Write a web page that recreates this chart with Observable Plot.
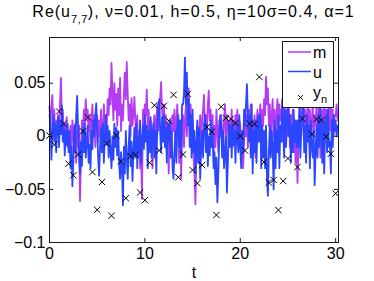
<!DOCTYPE html>
<html><head><meta charset="utf-8">
<script src="https://cdn.jsdelivr.net/npm/d3@7"></script>
<script src="https://cdn.jsdelivr.net/npm/@observablehq/plot@0.6"></script>
<style>
body{margin:0;background:#fff;font-family:"Liberation Sans",Arial,sans-serif;}
#wrap{position:relative;width:374px;height:281px;overflow:hidden;background:#fff}
#title{position:relative;width:387px;height:24px;text-align:center;font-size:16px;letter-spacing:1px;line-height:18px;padding-top:3px;box-sizing:border-box;white-space:nowrap;color:#000}
#title sub{font-size:11px;vertical-align:-6px;line-height:0;letter-spacing:0.5px}
#chart svg{display:block}
#legend{position:absolute;left:282px;top:41px}
</style></head><body>
<div id="wrap">
<div id="title">Re(u<sub>7,7</sub>), ν=0.01, h=0.5, η=10σ=0.4, α=1</div>
<div id="chart"></div>
<svg id="legend" width="53" height="68"></svg>
</div>
<script>
// time step of the plotted state series (t = 0, 0.1, ..., 30.2)
const dt = 0.1;
// u (true state)
const uVals = [
 0.028, 0.010,-0.022, 0.005, 0.020,-0.005, 0.012,-0.015, 0.008, 0.018,
-0.010, 0.015, 0.002, 0.029,-0.005, 0.010,-0.018, 0.005,-0.008, 0.012,
-0.015, 0.005,-0.030,-0.010,-0.047,-0.025, 0.010,-0.015, 0.020, 0.038,
 0.005,-0.020,-0.035,-0.005,-0.028, 0.008,-0.015, 0.012,-0.020,-0.005,
 0.010,-0.025,-0.008,-0.030, 0.005,-0.012, 0.015, 0.000, 0.018, 0.031,
 0.005,-0.020,-0.037,-0.010, 0.008,-0.015, 0.012,-0.025, 0.000, 0.020,
-0.008, 0.010,-0.020, 0.005,-0.015,-0.030, 0.000,-0.022, 0.012,-0.010,
 0.008,-0.018, 0.005,-0.025,-0.040,-0.015,-0.030,-0.065,-0.010,-0.035,
 0.005,-0.020,-0.040,-0.010, 0.010,-0.028,-0.005,-0.042,-0.015, 0.008,
-0.020, 0.012,-0.030, 0.000,-0.018, 0.015,-0.025,-0.005, 0.010,-0.012,
 0.020,-0.005, 0.010,-0.030, 0.005,-0.015, 0.018,-0.020, 0.000, 0.012,
-0.020, 0.005,-0.035, 0.010, 0.025, 0.035, 0.005,-0.015, 0.018,-0.005,
 0.020,-0.010, 0.008,-0.025, 0.012,-0.005, 0.015,-0.020, 0.005,-0.030,
-0.040,-0.015, 0.005,-0.025, 0.010, 0.020,-0.010, 0.015,-0.020, 0.030,
 0.030, 0.040, 0.074, 0.030, 0.060, 0.010, 0.035,-0.010, 0.020,-0.020,
 0.025,-0.015, 0.005,-0.035,-0.010, 0.015,-0.025, 0.008,-0.040,-0.012,
 0.005,-0.020, 0.010, 0.020,-0.015, 0.012,-0.028, 0.000,-0.018, 0.015,
-0.010, 0.008,-0.030,-0.015,-0.045,-0.020,-0.062,-0.035, 0.000, 0.020,
 0.010,-0.020, 0.005,-0.030,-0.015, 0.000,-0.053,-0.025, 0.012,-0.010,
 0.010,-0.020, 0.015,-0.008, 0.005,-0.025, 0.012, 0.000,-0.015, 0.020,
-0.010,-0.030, 0.005,-0.015, 0.025, 0.010, 0.030, 0.049, 0.020,-0.005,
 0.020,-0.020, 0.030,-0.035, 0.005,-0.015, 0.015,-0.025, 0.008, 0.020,
-0.005, 0.020,-0.030, 0.010,-0.020, 0.005,-0.030, 0.010,-0.040,-0.056,
-0.015, 0.010,-0.020, 0.005,-0.010,-0.050, 0.015,-0.030, 0.005,-0.015,
 0.020,-0.030, 0.010,-0.005, 0.035, 0.010,-0.020, 0.025,-0.010, 0.015,
 0.030, 0.000, 0.020,-0.025, 0.010,-0.015, 0.025,-0.005, 0.015,-0.010,
 0.015,-0.010, 0.030,-0.020, 0.005, 0.020, 0.035,-0.015, 0.010,-0.025,
 0.020,-0.005, 0.010,-0.030, 0.015,-0.010,-0.020, 0.005,-0.046,-0.015,
 0.010,-0.020, 0.020,-0.010, 0.030, 0.000,-0.025, 0.015,-0.035, 0.010,
 0.020,-0.015, 0.025,-0.010,-0.005,-0.035, 0.015,-0.010, 0.020, 0.005,
 0.015, 0.000, 0.010];
// m (filter mean)
const mVals = [
 0.020, 0.010, 0.030, 0.039, 0.005, 0.025,-0.005, 0.015, 0.000, 0.020,
 0.010, 0.030, 0.055, 0.015, 0.025,-0.005, 0.012, 0.000, 0.018,-0.010,
 0.005,-0.015, 0.010,-0.020, 0.015, 0.000,-0.010, 0.012,-0.025, 0.005,
-0.010, 0.010,-0.061,-0.020, 0.015, 0.000, 0.025, 0.010, 0.035, 0.015,
 0.025, 0.005, 0.020,-0.010, 0.015, 0.030, 0.000, 0.020,-0.010, 0.010,
 0.020,-0.005, 0.015, 0.000, 0.025,-0.015, 0.010, 0.030, 0.005, 0.020,
 0.010, 0.035, 0.020, 0.045, 0.030, 0.069, 0.040, 0.015, 0.050, 0.025,
 0.040, 0.010, 0.045, 0.020, 0.055, 0.005, 0.030, 0.015, 0.040, 0.060,
 0.035, 0.070, 0.040, 0.015, 0.030, 0.000, 0.036, 0.010, 0.020, 0.037,
 0.015,-0.010, 0.020,-0.020, 0.005,-0.030,-0.015,-0.059, 0.025, 0.010,
 0.030, 0.020, 0.044, 0.005, 0.025,-0.010, 0.015, 0.000,-0.030, 0.010,
 0.020,-0.005, 0.015, 0.030, 0.005, 0.020, 0.035, 0.051, 0.025, 0.010,
 0.030, 0.000, 0.020,-0.015, 0.010,-0.035, 0.005, 0.015,-0.010, 0.020,
 0.005, 0.025,-0.010, 0.015, 0.030, 0.000,-0.025, 0.010,-0.040, 0.005,
 0.020,-0.010, 0.015, 0.030, 0.000, 0.025, 0.045, 0.010, 0.030,-0.010,
 0.015,-0.020,-0.035,-0.064,-0.015, 0.010,-0.025, 0.005, 0.020,-0.010,
 0.015, 0.025, 0.039, 0.010, 0.020, 0.000, 0.030, 0.043, 0.015, 0.025,
 0.000, 0.020,-0.020, 0.010,-0.010, 0.025, 0.005,-0.015, 0.015, 0.000,
 0.020, 0.005,-0.015, 0.015, 0.030, 0.000, 0.020, 0.010,-0.005, 0.015,
 0.005, 0.025,-0.010, 0.015, 0.000, 0.020, 0.010, 0.025,-0.005, 0.015,
 0.010,-0.020, 0.005,-0.030,-0.005, 0.015, 0.000, 0.020,-0.010, 0.025,
 0.005, 0.030,-0.010, 0.015, 0.000, 0.020,-0.020, 0.010, 0.025,-0.005,
 0.015, 0.030, 0.000, 0.025, 0.010, 0.035, 0.020, 0.056, 0.030, 0.045,
 0.010, 0.030,-0.005, 0.020, 0.035, 0.000, 0.025,-0.010, 0.020, 0.035,
 0.005, 0.030, 0.015, 0.025,-0.005, 0.020, 0.035, 0.010, 0.025, 0.000,
 0.015, 0.030,-0.010, 0.020, 0.005, 0.025,-0.015, 0.010,-0.025, 0.000,
-0.044,-0.010, 0.015, 0.030, 0.000, 0.020, 0.035, 0.010, 0.025,-0.005,
 0.020, 0.035, 0.005, 0.025,-0.010, 0.015, 0.030, 0.000, 0.020, 0.010,
 0.030,-0.005, 0.020, 0.035,-0.020, 0.010, 0.025, 0.000, 0.030, 0.015,
 0.025,-0.010, 0.020, 0.035, 0.005, 0.030, 0.010, 0.025, 0.000, 0.020,
 0.019, 0.030, 0.015];
// observation interval h and observations y_n at t = 0, 0.5, ..., 30
const h = 0.5;
const obsVals = [
 0.0007,-0.0078, 0.0234, 0.0119,-0.0258,-0.0367,-0.0171, 0.0047, 0.0178,-0.0337,
-0.0692,-0.0430,-0.0068,-0.0748, 0.0007,-0.0237,-0.0583,-0.0187,-0.0174,-0.0529,
-0.0601,-0.0249, 0.0292,-0.0134, 0.0287, 0.0147, 0.0390,-0.0386,-0.0171, 0.0399,
-0.0318,-0.0442,-0.0271, 0.0086, 0.0041,-0.0741, 0.0278, 0.0172, 0.0163, 0.0125,
 0.0002,-0.0134, 0.0119, 0.0116, 0.0558,-0.0243,-0.0436,-0.0411,-0.0695,-0.0421,
-0.0209, 0.0350,-0.0290, 0.0166, 0.0400, 0.0021, 0.0161, 0.0151,-0.0003,-0.0165,
-0.0538];
const xTicks = [0, 10, 20, 30];
const xTickLabels = ["0", "10", "20", "30"];
const yTicks = [-0.1, -0.05, 0, 0.05];
const yTickLabels = ["\u22120.1", "\u22120.05", "0", "0.05"];
const xLabel = "t";
const seriesNames = ["m", "u"];
const colorM = "#b43cf2";
const colorU = "#2a46ff";

const mData = mVals.map((v, i) => ({t: i * dt, v}));
const uData = uVals.map((v, i) => ({t: i * dt, v}));
const obs = obsVals.map((v, i) => ({t: i * h, v}));

const W = 374, H = 257, mL = 49, mR = 36, mT = 13, mB = 39;
const innerW = W - mL - mR, innerH = H - mT - mB, tk = 4;
const axisColor = "#1a1a1a";
const font = "Liberation Sans, Arial, sans-serif";

const chart = Plot.plot({
  width: W, height: H,
  marginLeft: mL, marginRight: mR, marginTop: mT, marginBottom: mB,
  style: {fontFamily: font, fontSize: "16px", background: "#fff", color: "#000", overflow: "visible"},
  x: {domain: [0, 30.3]},
  y: {domain: [-0.1, 0.093]},
  marks: [
    Plot.line(mData, {x: "t", y: "v", stroke: colorM, strokeWidth: 1.8}),
    Plot.line(uData, {x: "t", y: "v", stroke: colorU, strokeWidth: 1.8}),
    Plot.dot(obs, {x: "t", y: "v", symbol: "times", r: 3, stroke: "#000", strokeWidth: 1}),
    Plot.frame({stroke: axisColor, strokeWidth: 1}),
    Plot.tickX(xTicks, {x: d => d, insetTop: innerH - tk, stroke: axisColor}),
    Plot.tickX(xTicks, {x: d => d, insetBottom: innerH - tk, stroke: axisColor}),
    Plot.tickY(yTicks, {y: d => d, insetRight: innerW - tk, stroke: axisColor}),
    Plot.tickY(yTicks, {y: d => d, insetLeft: innerW - tk, stroke: axisColor}),
    Plot.axisX({ticks: xTicks, tickSize: 0, tickPadding: 5, tickFormat: d => xTickLabels[xTicks.indexOf(d)], label: null, fontSize: 16}),
    Plot.axisY({ticks: yTicks, tickSize: 0, tickPadding: 4, tickFormat: d => yTickLabels[yTicks.indexOf(d)], label: null, fontSize: 16}),
    Plot.text([xLabel], {text: d => d, frameAnchor: "bottom", dy: 30, fontSize: 16, lineAnchor: "middle", fill: "#000"})
  ]
});
document.getElementById("chart").appendChild(chart);

// legend box
const lg = d3.select("#legend");
lg.append("rect").attr("x", 0.5).attr("y", 0.5).attr("width", 51).attr("height", 66)
  .attr("fill", "#fff").attr("stroke", axisColor);
[colorM, colorU].forEach((c, i) => {
  const y = 11 + i * 19.5;
  lg.append("line").attr("x1", 6).attr("x2", 29).attr("y1", y).attr("y2", y).attr("stroke", c).attr("stroke-width", 1.5);
  lg.append("text").attr("x", 31).attr("y", y + 6).attr("font-size", 16).attr("font-family", font).text(seriesNames[i]);
});
lg.append("path").attr("d", d3.symbol(d3.symbolTimes, 16)()).attr("transform", "translate(18.5,56.5)").attr("fill", "none").attr("stroke", "#000");
const ty = lg.append("text").attr("x", 31).attr("y", 57).attr("font-size", 16).attr("font-family", font);
ty.append("tspan").text("y");
ty.append("tspan").attr("font-size", 11).attr("dy", 5).text("n");
</script>
</body></html>
